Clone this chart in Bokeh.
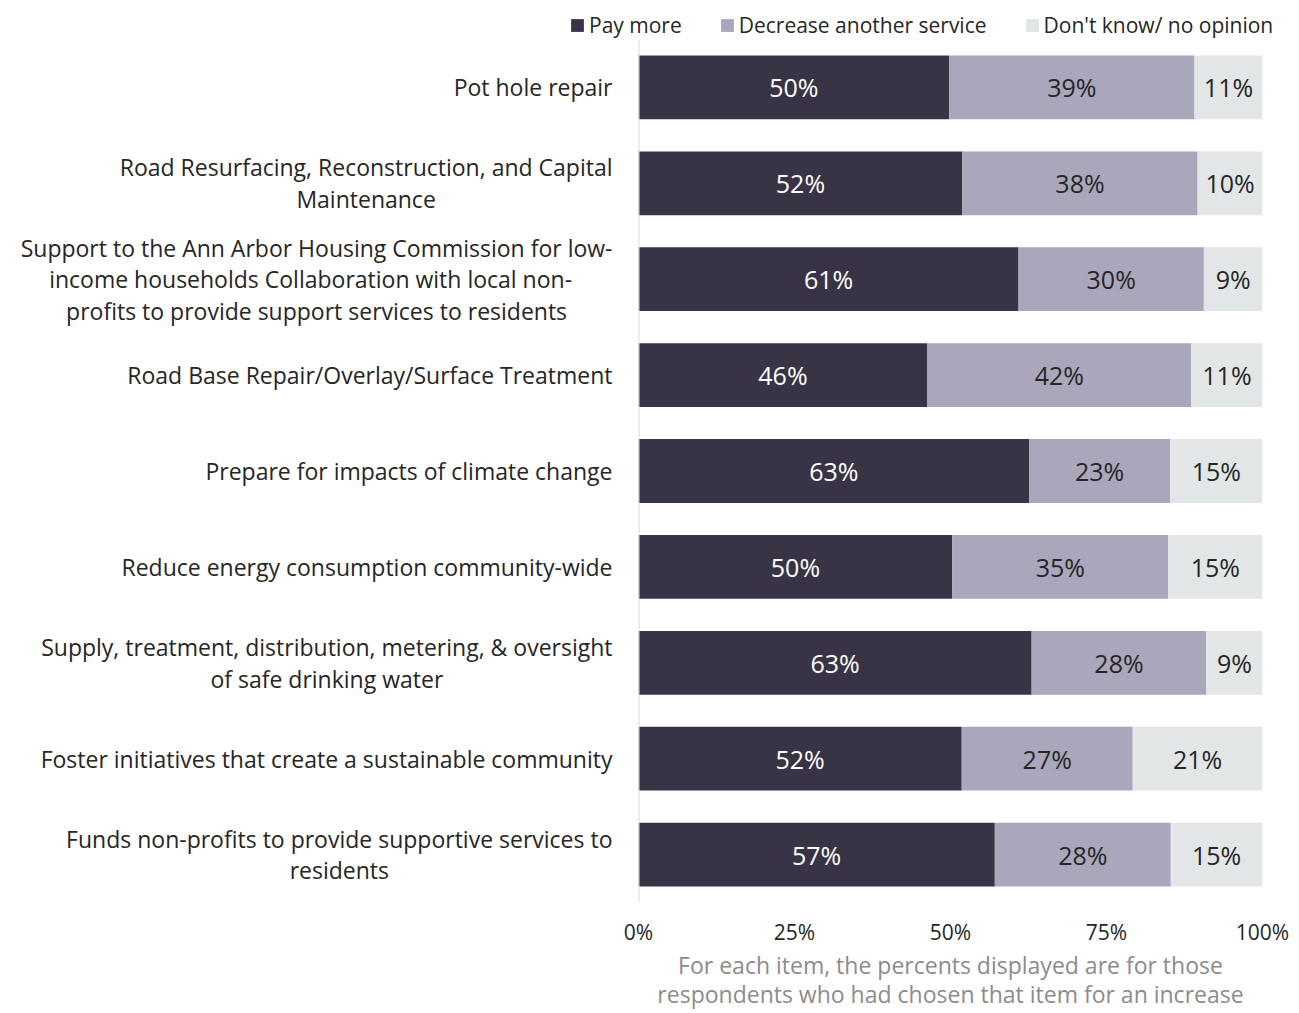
import numpy as np
from bokeh.plotting import figure
from bokeh.layouts import row, column
from bokeh.models import (ColumnDataSource, FactorRange, Legend, LegendItem, FixedTicker, Span)
from bokeh.core.properties import value
from bokeh.embed import file_html
from bokeh.resources import INLINE

categories = [
    "Pot hole repair",
    "Road Resurfacing, Reconstruction, and Capital\nMaintenance",
    "Support to the Ann Arbor Housing Commission for low-\nincome households   Collaboration with local non-\nprofits to provide support services to residents",
    "Road Base Repair/Overlay/Surface Treatment",
    "Prepare for impacts of climate change",
    "Reduce energy consumption community-wide",
    "Supply, treatment, distribution, metering, & oversight\nof safe drinking water",
    "Foster initiatives that create a sustainable community",
    "Funds non-profits to provide supportive services to\nresidents",
]
pay_more = [49.8, 51.9, 60.9, 46.3, 62.6, 50.3, 63.0, 51.8, 57.1]
decrease = [39.3, 37.7, 29.7, 42.3, 22.6, 34.6, 28.0, 27.4, 28.2]
dont_know = [10.9, 10.4, 9.4, 11.4, 14.8, 15.1, 9.0, 20.8, 14.7]
series_names = ["Pay more", "Decrease another service", "Don't know/ no opinion"]
x_ticks = [0, 25, 50, 75, 100]
tick_labels = ["0%", "25%", "50%", "75%", "100%"]
note = "For each item, the percents displayed are for those\nrespondents who had chosen that item for an increase"

colors = ["#383445", "#aaa6bb", "#e3e6e6"]
label_colors = ["#ffffff", "#262626", "#262626"]
FONT = "Open Sans"
LEG_H = 39
H = 974
TOP, BOTTOM = 0, 109

yr = FactorRange(*reversed(categories))

# ---- legend strip -------------------------------------------------------
lg = figure(width=1291, height=LEG_H, output_backend="svg", toolbar_location=None,
            x_range=(0, 1), y_range=(0, 1), x_axis_location=None, y_axis_location=None,
            min_border=0)
lg.xgrid.visible = False
lg.ygrid.visible = False
lg.outline_line_color = None
leg_items = []
for i in range(3):
    nan = np.array([np.nan])
    rr = lg.hbar(y=nan, left=nan, right=nan, height=1, fill_color=colors[i], line_color=None)
    leg_items.append(LegendItem(label=series_names[i], renderers=[rr]))
legend = Legend(items=leg_items, orientation="horizontal", location=(569, 0),
                label_text_font=FONT, label_text_font_size="21px", label_text_color="#262626",
                glyph_width=16, glyph_height=16, spacing=37, label_standoff=4,
                padding=0, margin=0, border_line_color=None, background_fill_alpha=0)
lg.add_layout(legend)

# ---- category label panel ----------------------------------------------
lp = figure(width=623, height=H, output_backend="svg", toolbar_location=None,
            y_range=yr, x_range=(0, 1), x_axis_location=None, y_axis_location=None,
            min_border_left=0, min_border_right=0, min_border_top=TOP, min_border_bottom=BOTTOM)
lp.xgrid.visible = False
lp.ygrid.visible = False
lp.outline_line_color = None
lp.text(x=1, y=categories, text=categories, x_offset=-11, anchor="center_right",
        text_align="center", text_baseline="middle", text_font=value(FONT),
        text_font_size="23px", text_color="#262626", text_line_height=0.99)

# ---- bars -----------------------------------------------------------------
p = figure(width=668, height=H, output_backend="svg", toolbar_location=None,
           y_range=yr, x_range=(0, 100), y_axis_location=None,
           min_border_left=15, min_border_right=29, min_border_top=TOP, min_border_bottom=BOTTOM)

pm = np.array(pay_more); de = np.array(decrease); dk = np.array(dont_know)
data = dict(cat=categories)
data["l0"] = np.zeros(len(pm)); data["r0"] = pm
data["l1"] = pm; data["r1"] = pm + de
data["l2"] = pm + de; data["r2"] = pm + de + dk
for i, vals in enumerate([pm, de, dk]):
    data[f"c{i}"] = (data[f"l{i}"] + data[f"r{i}"]) / 2
    data[f"t{i}"] = [f"{round(v)}%" for v in vals]
src = ColumnDataSource(data)

for i in range(3):
    p.hbar(y="cat", left=f"l{i}", right=f"r{i}", height=0.665, source=src,
           fill_color=colors[i], line_color=None)
    p.text(x=f"c{i}", y="cat", text=f"t{i}", source=src, text_align="center",
           text_baseline="middle", text_font=value(FONT), text_font_size="25px",
           text_color=label_colors[i])

p.add_layout(Span(location=0, dimension="height", line_color="#d9d9d9", line_width=2))

p.xgrid.visible = False
p.ygrid.visible = False
p.outline_line_color = None

xa = p.xaxis[0]
xa.axis_line_color = None
xa.major_tick_line_color = None
xa.minor_tick_line_color = None
xa.major_tick_out = 0
xa.major_tick_in = 0
xa.ticker = FixedTicker(ticks=x_ticks)
xa.major_label_overrides = {t: s for t, s in zip(x_ticks, tick_labels)}
xa.major_label_text_font = FONT
xa.major_label_text_font_size = "21px"
xa.major_label_text_color = "#262626"
xa.major_label_standoff = 15
xa.axis_label = note
xa.axis_label_text_font = FONT
xa.axis_label_text_font_size = "23px"
xa.axis_label_text_font_style = "normal"
xa.axis_label_text_color = "#8c8c8c"
xa.axis_label_standoff = 0
xa.axis_label_text_line_height = 0.93

layout = column(lg, row(lp, p))
open("out.html", "w").write(file_html(layout, INLINE))
